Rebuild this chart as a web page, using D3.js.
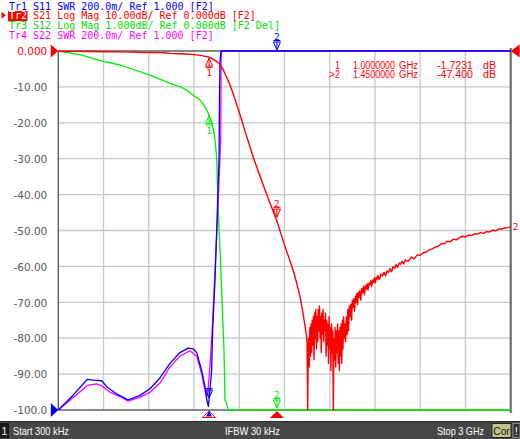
<!DOCTYPE html>
<html><head><meta charset="utf-8">
<script src="https://cdn.jsdelivr.net/npm/d3@7"></script>
<style>html,body{margin:0;padding:0;background:#fff;overflow:hidden}svg text{white-space:pre}</style>
</head><body>
<svg id="c" width="520" height="439"></svg>
<script>
// ---------- data ----------
const startGHz = 0.0003, stopGHz = 3;
const yTickValues = [0,-10,-20,-30,-40,-50,-60,-70,-80,-90,-100];
const yTickLabels = ["0.000","-10.00","-20.00","-30.00","-40.00","-50.00","-60.00","-70.00","-80.00","-90.00","-100.0"];
const headerLines = [
  {tr:"Tr1", rest:" S11 SWR 200.0m/ Ref 1.000 [F2]", color:"#0000ff"},
  {tr:"Tr2", rest:" S21 Log Mag 10.00dB/ Ref 0.000dB [F2]", color:"#ff0000", active:true},
  {tr:"Tr3", rest:" S12 Log Mag 1.000dB/ Ref 0.000dB [F2 Del]", color:"#00e000"},
  {tr:"Tr4", rest:" S22 SWR 200.0m/ Ref 1.000 [F2]", color:"#ff00ff"}
];
const markerFreqs = [1.0, 1.45];
const markerReadout = [
  ["", "1", "1.0000000", "GHz", "-1.7231", "dB"],
  [">", "2", "1.4500000", "GHz", "-47.400", "dB"]
];
const statusLeft = "Start 300 kHz", statusMid = "IFBW 30 kHz", statusRight = "Stop 3 GHz";

// Tr2 S21 (dB)
const s21 = [
[0.0003,-0.05],[0.1,-0.1],[0.2,-0.15],[0.3,-0.2],[0.4,-0.25],[0.5,-0.3],[0.55,-0.4],[0.6,-0.45],[0.7,-0.5],
[0.74,-0.65],[0.8,-0.75],[0.85,-0.85],[0.9,-1.0],[0.93,-1.15],[0.96,-1.35],[1.0,-1.72],[1.02,-2.1],[1.04,-2.6],
[1.06,-3.2],[1.0725,-3.8],[1.09,-4.9],[1.11,-6.7],[1.13,-8.6],[1.15,-10.7],[1.17,-13.2],[1.19,-15.8],[1.216,-19.2],
[1.24,-22.6],[1.271,-26.6],[1.293,-29.6],[1.35,-36.3],[1.40,-41.9],[1.45,-47.4],[1.50,-54],[1.557,-61],[1.58,-64.5],
[1.603,-68.4],[1.623,-73],[1.647,-79.6],
[1.650,-82],[1.654,-101],[1.657,-86],[1.660,-80],[1.664,-88],[1.668,-77],[1.672,-85],[1.676,-76],[1.680,-84],
[1.684,-75],[1.688,-82],[1.692,-74],[1.696,-86],[1.700,-73],[1.704,-80],[1.708,-72],[1.712,-83],[1.716,-74],
[1.720,-81],[1.724,-72],[1.728,-78],[1.732,-71],[1.736,-80],[1.740,-74],[1.744,-84],[1.748,-73],[1.752,-79],
[1.756,-72],[1.760,-81],[1.764,-75],[1.768,-78],[1.772,-73],[1.776,-85],[1.780,-75],[1.784,-82],[1.788,-76],
[1.792,-87],[1.796,-74],[1.800,-83],[1.804,-77],[1.808,-89],[1.812,-76],[1.816,-84],[1.820,-78],[1.824,-101],
[1.828,-80],[1.832,-86],[1.836,-77],[1.840,-88],[1.844,-78],[1.848,-84],[1.852,-76],[1.856,-87],[1.860,-78],
[1.864,-89],[1.868,-77],[1.872,-85],[1.876,-76],[1.880,-87],[1.884,-75],[1.888,-83],[1.892,-74],[1.896,-80],
[1.90,-76],[1.905,-81],[1.91,-74],[1.915,-79],[1.92,-72],[1.925,-78],[1.93,-71],[1.935,-74],[1.94,-70.5],[1.945,-75],
[1.95,-69.5],[1.955,-71.5],[1.96,-69],[1.965,-72.5],[1.97,-68.2],[1.975,-70],[1.98,-67.5],[1.985,-70.6],[1.99,-67.2],
[1.995,-68.6],[2.0,-66.8],[2.006,-69.4],[2.012,-66.2],[2.018,-67.4],[2.024,-65.5],[2.03,-67.9],[2.036,-65.4],
[2.042,-66.3],[2.048,-64.8],[2.054,-66.6],[2.06,-64.6],[2.066,-65.2],[2.072,-64],[2.078,-65.6],[2.084,-63.8],
[2.09,-64.5],[2.096,-63.2],[2.102,-64.6],[2.108,-63],[2.114,-63.6],[2.12,-62.5],[2.13,-63.7],[2.14,-62.1],[2.15,-62.7],
[2.16,-61.6],[2.17,-62.6],[2.18,-61.3],[2.19,-61.7],[2.2,-60.6],[2.21,-61.5],[2.22,-60.1],[2.23,-60.5],[2.24,-59.5],
[2.25,-60.3],[2.26,-59.1],[2.27,-59.4],[2.28,-58.6],[2.29,-59.3],[2.3,-58.2],[2.32,-58.6],[2.34,-57.4],[2.36,-57.9],
[2.38,-56.8],[2.4,-56.9],[2.42,-56.2],[2.44,-56.0],[2.46,-55.4],[2.48,-55.1],[2.5,-54.6],[2.52,-54.4],[2.54,-53.6],
[2.56,-53.7],[2.58,-53.0],[2.6,-53.1],[2.62,-52.4],[2.64,-52.6],[2.66,-52.0],[2.68,-51.6],[2.70,-51.8],[2.72,-51.3],
[2.74,-51.4],[2.76,-50.9],[2.78,-51.0],[2.8,-50.6],[2.82,-50.8],[2.84,-50.3],[2.86,-50.4],[2.88,-49.9],[2.9,-50.1],
[2.92,-49.6],[2.94,-49.6],[2.96,-49.3],[2.98,-49.2],[3.0,-49.0]
];
// Tr3 S12 (dB, 1 dB/div)
const s12 = [
[0.0003,0],[0.144,-0.1],[0.277,-0.27],[0.41,-0.39],[0.61,-0.67],[0.74,-0.9],[0.807,-0.99],[0.851,-1.09],
[0.895,-1.23],[0.939,-1.36],[0.973,-1.55],[0.995,-1.74],[1.018,-2.01],[1.029,-2.2],[1.04,-2.48],[1.046,-2.76],
[1.051,-3.04],[1.058,-4.15],[1.0725,-5.54],[1.0858,-6.94],[1.099,-8.33],[1.1056,-9.72],[1.1156,-9.8],[1.1256,-10.3],
[1.2,-10.6],[3.0,-10.6]
];
// Tr1 S11 (SWR)
const s11 = [
[0.0003,1.0],[0.1,1.084],[0.193,1.171],[0.232,1.167],[0.288,1.163],[0.321,1.13],[0.376,1.096],[0.409,1.08],
[0.4625,1.056],[0.54,1.08],[0.61,1.12],[0.675,1.18],[0.741,1.26],[0.807,1.32],[0.86,1.345],[0.895,1.34],
[0.918,1.32],[0.951,1.22],[0.973,1.13],[0.984,1.06],[0.995,1.02],[1.006,1.11],[1.017,1.22],[1.024,1.45],
[1.039,1.72],[1.053,2.06],[1.066,2.4],[1.069,2.73],[1.0725,2.94],[1.079,3.2],[1.2,4],[3.0,4]
];
// Tr4 S22 (SWR)
const s22 = [
[0.0003,1.0],[0.1,1.07],[0.193,1.137],[0.255,1.145],[0.288,1.134],[0.343,1.10],[0.409,1.075],[0.4625,1.05],
[0.54,1.07],[0.61,1.1],[0.675,1.15],[0.741,1.24],[0.807,1.30],[0.873,1.33],[0.918,1.30],[0.951,1.20],
[0.973,1.11],[0.984,1.07],[0.995,1.13],[1.006,1.25],[1.0214,1.45],[1.046,1.89],[1.066,2.28],[1.077,2.5],
[1.08,2.95],[1.083,3.3],[1.2,4],[3.0,4]
];

// ---------- drawing ----------
const svg = d3.select("#c");
const P = {l:58.3, r:510.7, t:51, b:410};
const x = d3.scaleLinear().domain([startGHz, stopGHz]).range([P.l, P.r]);
const yDb = d3.scaleLinear().domain([-100,0]).range([P.b,P.t]).clamp(true);
const yS12 = d3.scaleLinear().domain([-10,0]).range([P.b,P.t]).clamp(true);
const ySwr = d3.scaleLinear().domain([1,3]).range([P.b,P.t]).clamp(true);
const C = {red:"#ff0000", green:"#00ee00", blue:"#0000ff", mag:"#ff00ff", grid:"#c8c8c8", frame:"#5f5f5f", lbl:"#5a5a5a"};

// grid
const gridF = d3.range(1,10).map(i => startGHz + i*(stopGHz-startGHz)/10);
svg.append("g").selectAll("line").data(gridF).join("line")
  .attr("x1",d=>x(d)).attr("x2",d=>x(d)).attr("y1",P.t).attr("y2",P.b)
  .attr("stroke",C.grid).attr("stroke-width",1.3);
svg.append("g").selectAll("line").data(yTickValues.slice(1,-1)).join("line")
  .attr("x1",P.l).attr("x2",P.r).attr("y1",d=>yDb(d)).attr("y2",d=>yDb(d))
  .attr("stroke",C.grid).attr("stroke-width",1.3);

// y axis labels
const ax = svg.append("g").attr("transform",`translate(${P.l-11},0)`)
  .call(d3.axisLeft(yDb).tickValues(yTickValues).tickFormat((d,i)=>yTickLabels[i]).tickSize(0).tickPadding(0));
ax.select(".domain").remove();
ax.selectAll("text").attr("font-family","DejaVu Sans").attr("font-size","10.5px")
  .attr("fill",(d,i)=> i===0 ? C.red : C.lbl).attr("dy","0.36em");

// frame
svg.append("line").attr("x1",P.l).attr("x2",P.r).attr("y1",P.t).attr("y2",P.t).attr("stroke",C.frame).attr("stroke-width",1.3);
svg.append("line").attr("x1",P.l).attr("x2",P.r).attr("y1",P.b).attr("y2",P.b).attr("stroke",C.frame).attr("stroke-width",1.3);
svg.append("line").attr("x1",P.l).attr("x2",P.l).attr("y1",P.t).attr("y2",P.b).attr("stroke",C.frame).attr("stroke-width",1.4);
svg.append("line").attr("x1",P.r).attr("x2",P.r).attr("y1",P.t-3).attr("y2",P.b+3).attr("stroke",C.frame).attr("stroke-width",2);

// traces
function trace(data, ys, color, w){
  svg.append("path").datum(data)
    .attr("d", d3.line().x(d=>x(d[0])).y(d=>ys(d[1])))
    .attr("fill","none").attr("stroke",color).attr("stroke-width",w||1.3).attr("stroke-linejoin","round");
}
trace(s12, yS12, C.green);
trace(s22, ySwr, C.mag);
trace(s11, ySwr, C.blue);
trace(s21, yDb, C.red, 1.4);

function interp(data,f){
  for(let i=1;i<data.length;i++){ if(data[i][0]>=f){ const a=data[i-1],b=data[i]; return a[1]+(b[1]-a[1])*(f-a[0])/(b[0]-a[0]); } }
  return data[data.length-1][1];
}
// marker glyphs
function mark(cx, tipY, dir, label, color){ // dir: 1 = pointing down (glyph above), -1 = pointing up (glyph below)
  const g = svg.append("g").attr("fill","none").attr("stroke",color).attr("stroke-width",1);
  const h = 8, hw = 3.5;
  const baseY = tipY - dir*h;
  g.append("path").attr("d",`M${cx-hw},${baseY}L${cx+hw},${baseY}L${cx},${tipY}Z`);
  g.append("line").attr("x1",cx).attr("x2",cx).attr("y1",baseY).attr("y2",tipY);
  if(dir===1){
    g.append("line").attr("x1",cx-hw).attr("x2",cx+hw).attr("y1",baseY-1.5).attr("y2",baseY-1.5);
    svg.append("text").attr("x",cx).attr("y",baseY-2.5).attr("text-anchor","middle")
      .attr("font-family","DejaVu Sans Mono").attr("font-size","9.5px").attr("fill",color).text(label);
  } else {
    g.append("line").attr("x1",cx-hw).attr("x2",cx+hw).attr("y1",baseY+1.5).attr("y2",baseY+1.5);
    svg.append("text").attr("x",cx).attr("y",baseY+10).attr("text-anchor","middle")
      .attr("font-family","DejaVu Sans Mono").attr("font-size","9.5px").attr("fill",color).text(label);
  }
}
const m1 = markerFreqs[0], m2 = markerFreqs[1];
mark(x(m1), yDb(interp(s21,m1))+1, -1, "1", C.red);
mark(x(m1), yS12(interp(s12,m1)), -1, "1", C.green);
mark(x(m2), yDb(interp(s21,m2))-4, 1, "2", C.red);
mark(x(m2), ySwr(interp(s11,m2))-1, 1, "2", C.blue);
mark(x(m2), yS12(interp(s12,m2))-2, 1, "2", C.green);
mark(x(m1), ySwr(interp(s11,m1))-1, 1, "", C.blue);

// stimulus markers under axis
svg.append("path").attr("d",`M${x(m2)-7},${P.b+8}L${x(m2)+7},${P.b+8}L${x(m2)},${P.b+1}Z`).attr("fill",C.red);
svg.append("path").attr("d",`M${x(m1)-6.5},${P.b+7.5}L${x(m1)+6.5},${P.b+7.5}L${x(m1)},${P.b+1}Z`).attr("fill","none").attr("stroke",C.red);
svg.append("path").attr("d",`M${x(m1)-3},${P.b+6.5}L${x(m1)+3},${P.b+6.5}L${x(m1)},${P.b+1}Z`).attr("fill",C.blue);

// reference triangles
svg.append("path").attr("d",`M${P.l-7.5},${P.t-6.5}L${P.l},${P.t}L${P.l-7.5},${P.t+6.5}Z`).attr("fill",C.red);
svg.append("path").attr("d",`M${P.l-7.5},${P.b-7}L${P.l},${P.b}L${P.l-7.5},${P.b+7}Z`).attr("fill",C.blue);
svg.append("path").attr("d",`M${P.r+9},${P.t-6.5}L${P.r},${P.t}L${P.r+9},${P.t+6.5}Z`).attr("fill",C.red);
svg.append("text").attr("x",P.r+2).attr("y",yDb(interp(s21,stopGHz))+3.5)
  .attr("font-family","DejaVu Sans Mono").attr("font-size","9.5px").attr("fill",C.red).text("2");

// header
const hdr = svg.append("g").attr("font-family","DejaVu Sans Mono").attr("font-size","10px");
headerLines.forEach((h,i)=>{
  const by = 9.5 + i*9.7;
  if(h.active){
    svg.insert("rect","g").attr("x",8).attr("y",by-8.3).attr("width",19.5).attr("height",10.3).attr("fill",h.color);
    svg.append("path").attr("d",`M1.5,${by-7.5}L6,${by-4}L1.5,${by-0.5}Z`).attr("fill",h.color);
  }
  const t = hdr.append("text").attr("x",9).attr("y",by).attr("fill",h.color);
  t.append("tspan").attr("fill",h.active?"#ffffff":h.color).text(h.tr);
  t.append("tspan").text(h.rest);
});
hdr.raise();

// marker readout
const colX = [329, 335, 353, 399, 437, 483];
const colW = [0, 5, 42, 19, 36, 13];
markerReadout.forEach((row,i)=>{
  row.forEach((s,j)=>{
    if(!s) return;
    const t = svg.append("text").attr("x",colX[j]).attr("y",68.5+i*9.5)
      .attr("font-family","Liberation Sans").attr("font-size","10px").attr("fill",C.red).text(s);
    if(colW[j]) t.attr("textLength",colW[j]).attr("lengthAdjust","spacingAndGlyphs");
  });
});

// status bar
svg.append("rect").attr("x",0).attr("y",421).attr("width",520).attr("height",18).attr("fill","#474747");
svg.append("line").attr("x1",0).attr("x2",520).attr("y1",421.5).attr("y2",421.5).attr("stroke","#2a2a2a");
svg.append("rect").attr("x",0).attr("y",423).attr("width",9).attr("height",15).attr("fill","#1c1c1c");
svg.append("text").attr("x",4.5).attr("y",434.5).attr("text-anchor","middle").attr("font-family","Liberation Sans").attr("font-size","10.5px").attr("fill","#fff").text("1");
const sb = svg.append("g").attr("font-family","Liberation Sans").attr("font-size","10.3px").attr("fill","#ffffff");
sb.append("text").attr("x",13).attr("y",434.5).attr("textLength",56).attr("lengthAdjust","spacingAndGlyphs").text(statusLeft);
sb.append("text").attr("x",225).attr("y",434.5).attr("textLength",55).attr("lengthAdjust","spacingAndGlyphs").text(statusMid);
sb.append("text").attr("x",437).attr("y",434.5).attr("textLength",47).attr("lengthAdjust","spacingAndGlyphs").text(statusRight);
svg.append("rect").attr("x",492).attr("y",423.5).attr("width",19).attr("height",14).attr("fill","#c4c48a").attr("stroke","#222");
svg.append("text").attr("x",501.5).attr("y",434.5).attr("text-anchor","middle").attr("font-family","Liberation Sans").attr("font-size","10.3px").attr("fill","#111").text("Cor");
svg.append("rect").attr("x",513).attr("y",423.5).attr("width",7).attr("height",14).attr("fill","#333").attr("stroke","#888");
svg.append("text").attr("x",516.5).attr("y",434.5).attr("text-anchor","middle").attr("font-family","Liberation Sans").attr("font-size","10.3px").attr("fill","#fff").text("!");
</script>
</body></html>
